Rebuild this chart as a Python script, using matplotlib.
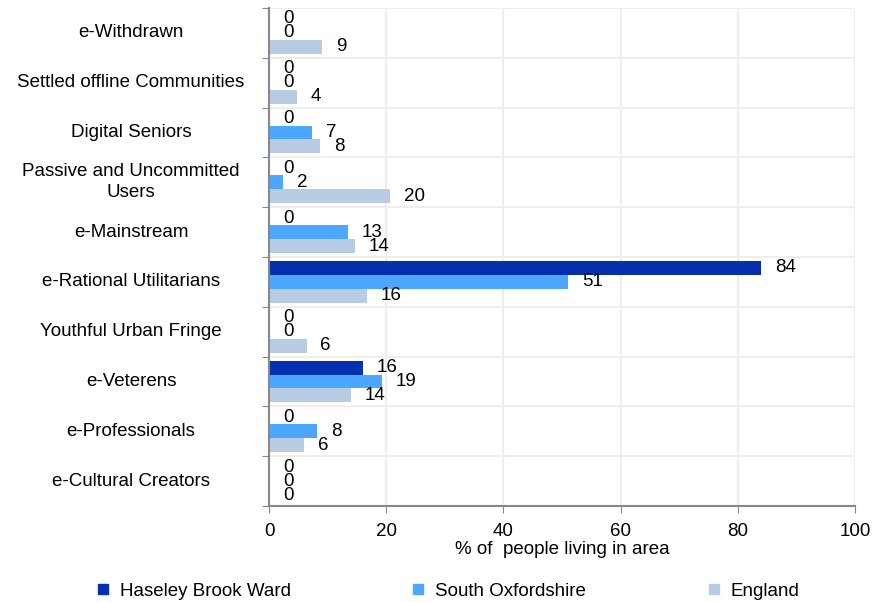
import matplotlib.pyplot as plt
import numpy as np
from matplotlib.lines import Line2D

plt.rcParams['font.family'] = ['Liberation Sans', 'DejaVu Sans']

# Data (top to bottom as shown)
categories = ["e-Withdrawn", "Settled offline Communities", "Digital Seniors",
              "Passive and Uncommitted\nUsers", "e-Mainstream", "e-Rational Utilitarians",
              "Youthful Urban Fringe", "e-Veterens", "e-Professionals", "e-Cultural Creators"]
series = ["Haseley Brook Ward", "South Oxfordshire", "England"]
haseley = [0, 0, 0, 0, 0, 84.0, 0, 16.0, 0, 0]
south_oxon = [0, 0, 7.3, 2.4, 13.5, 51.0, 0, 19.2, 8.2, 0]
england = [9.1, 4.7, 8.7, 20.6, 14.7, 16.7, 6.4, 14.0, 6.0, 0]
x_ticks = [0, 20, 40, 60, 80, 100]

colors = ["#0530B0", "#4DA6FF", "#B8CCE4"]
fs = 13.5

fig = plt.figure(figsize=(8.72, 6.02), dpi=100)
ax = fig.add_axes([0.3085, 0.1595, 0.6720, 0.8272])

y = np.arange(len(categories))
h = 0.28
for i, (vals, col) in enumerate(zip([haseley, south_oxon, england], colors)):
    pos = y + (i - 1) * h
    bars = ax.barh(pos, vals, height=h, color=col, zorder=3)
    for b, v in zip(bars, vals):
        ax.annotate(f"{int(v)}", (b.get_width(), b.get_y() + b.get_height() / 2),
                    xytext=(10, 0), textcoords="offset points",
                    ha="left", va="center", fontsize=fs, zorder=4)

ax.set_ylim(len(categories) - 0.5, -0.5)
ax.set_xlim(0, 100)

# category boundaries as gridlines / ticks
ax.set_yticks(np.arange(len(categories) + 1) - 0.5)
ax.set_yticklabels([])
ax.tick_params(axis="y", length=5, color="#888888", direction="out")
for i, c in enumerate(categories):
    ax.text(-0.2355, i, c, transform=ax.get_yaxis_transform(),
            ha="center", va="center", fontsize=fs, linespacing=1.3)

ax.set_xticks(x_ticks)
ax.set_xticklabels([str(t) for t in x_ticks], fontsize=fs)
ax.tick_params(axis="x", length=5, color="#888888", pad=7)
ax.set_xlabel("% of  people living in area", fontsize=fs, labelpad=1)

ax.grid(True, color="#EEEEEE", linewidth=1.5, zorder=0)
ax.set_axisbelow(True)
for s in ["top", "right"]:
    ax.spines[s].set_visible(False)
for s in ["left", "bottom"]:
    ax.spines[s].set_color("#888888")
    ax.spines[s].set_linewidth(1.5)
    ax.spines[s].set_zorder(5)

handles = [Line2D([], [], marker="s", linestyle="", markersize=7, color=c) for c in colors]
fig.legend(handles, series, loc="center", bbox_to_anchor=(0.512, 0.018),
           ncol=3, frameon=False, fontsize=fs, columnspacing=6.3,
           handletextpad=0.4, handlelength=1.0)

fig.savefig("out.png", dpi=100)
